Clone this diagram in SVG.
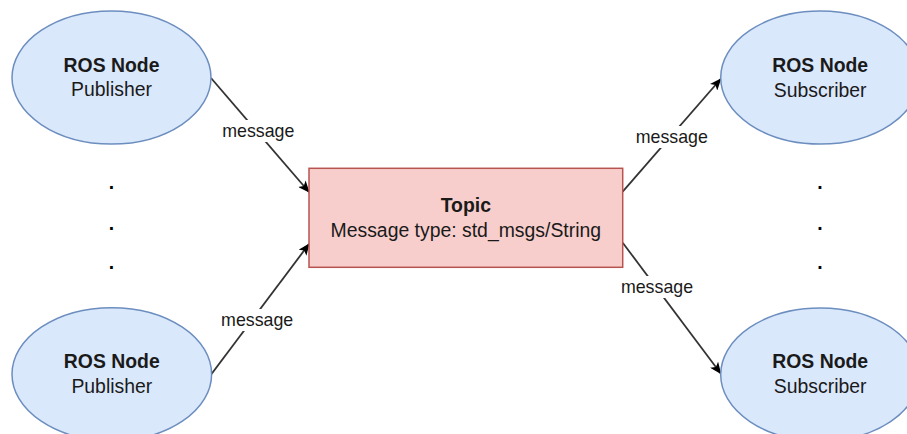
<svg xmlns="http://www.w3.org/2000/svg" width="907" height="434" viewBox="0 0 907 434">
<style>
.node ellipse{fill:#dae8fc;stroke:#6c8ebf;stroke-width:1.5}
.node rect{fill:#f8cecc;stroke:#b85450;stroke-width:1.5}
text{font-family:"Liberation Sans",Arial,sans-serif;fill:#1a1a1a;text-anchor:middle}
.t{font-size:19.4px}
.b{font-weight:bold}
.lbl{font-size:17.8px}
.edge{stroke:#333;stroke-width:1.8;fill:none}
.dot{font-size:19.4px;font-weight:bold;fill:#000}
</style>
<defs>
<marker id="arr" viewBox="0 0 12 10" refX="11" refY="5" markerWidth="12" markerHeight="10" markerUnits="userSpaceOnUse" orient="auto">
<path d="M0,0 L12,5 L0,10 L3,5 Z" fill="#000"/>
</marker>
</defs>
<rect width="907" height="434" fill="#fff"/>
<g id="connectors">
<path class="edge" d="M211,78 L309,192" marker-end="url(#arr)"/>
<path class="edge" d="M211.5,374 L309,244" marker-end="url(#arr)"/>
<path class="edge" d="M622.7,191.7 L720.7,79" marker-end="url(#arr)"/>
<path class="edge" d="M622.7,242.7 L720.7,373.5" marker-end="url(#arr)"/>
<rect x="219" y="120" width="78" height="22" fill="#fff"/>
<text class="lbl" x="258.3" y="137.3">message</text>
<rect x="218" y="309" width="78" height="22" fill="#fff"/>
<text class="lbl" x="257.2" y="326">message</text>
<rect x="633" y="126" width="78" height="22" fill="#fff"/>
<text class="lbl" x="671.8" y="142.7">message</text>
<rect x="618" y="276" width="78" height="22" fill="#fff"/>
<text class="lbl" x="657" y="292.7">message</text>
</g>
<g id="pub1" class="node">
<ellipse cx="111.5" cy="77.5" rx="99.5" ry="66.5"/>
<text class="t b" x="111.5" y="71.7">ROS Node</text>
<text class="t" x="111.5" y="96">Publisher</text>
</g>
<g id="pub2" class="node">
<ellipse cx="111.8" cy="374.2" rx="99.8" ry="66.5"/>
<text class="t b" x="111.8" y="368.3">ROS Node</text>
<text class="t" x="111.8" y="392.5">Publisher</text>
</g>
<g id="topic" class="node">
<rect x="309" y="168.3" width="313.7" height="99"/>
<text class="t b" x="465.8" y="212.3">Topic</text>
<text class="t" x="465.8" y="237.3">Message type: std_msgs/String</text>
</g>
<g id="sub1" class="node">
<ellipse cx="820.2" cy="77.5" rx="99.5" ry="66.5"/>
<text class="t b" x="820.2" y="71.7">ROS Node</text>
<text class="t" x="820.2" y="96.5">Subscriber</text>
</g>
<g id="sub2" class="node">
<ellipse cx="820.2" cy="374.5" rx="99.5" ry="66.5"/>
<text class="t b" x="820.2" y="368">ROS Node</text>
<text class="t" x="820.2" y="393">Subscriber</text>
</g>
<g id="dots-left">
<text class="dot" x="111.5" y="189">.</text>
<text class="dot" x="111.5" y="229.5">.</text>
<text class="dot" x="111.5" y="268.5">.</text>
</g>
<g id="dots-right">
<text class="dot" x="820" y="189">.</text>
<text class="dot" x="820" y="229.5">.</text>
<text class="dot" x="820" y="268.5">.</text>
</g>
</svg>
